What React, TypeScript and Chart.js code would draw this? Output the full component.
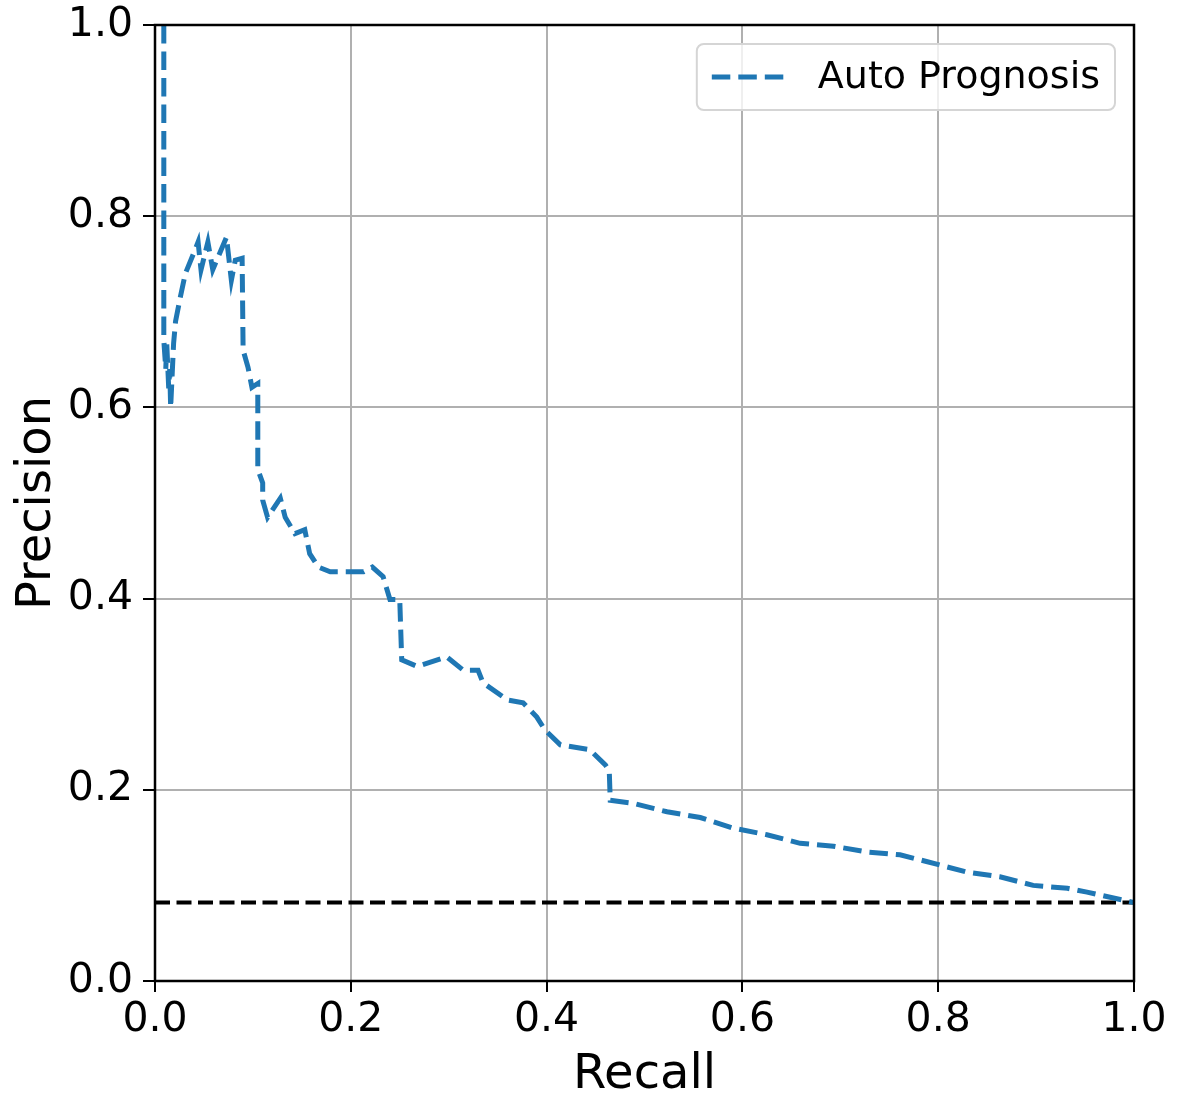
import React, { useEffect, useRef } from "react";
import { Chart, registerables } from "chart.js";

Chart.register(...registerables);

const seriesLabel = "Auto Prognosis";
const recall = [
  0.009, 0.009, 0.011, 0.012, 0.014, 0.015, 0.016, 0.019, 0.021, 0.026, 0.031, 0.039, 0.044, 0.047,
  0.054, 0.059, 0.066, 0.073, 0.078, 0.082, 0.089, 0.090, 0.095, 0.099, 0.105, 0.105, 0.110, 0.110,
  0.115, 0.128, 0.133, 0.143, 0.153, 0.158, 0.167, 0.179, 0.196, 0.213, 0.222, 0.233, 0.240, 0.250,
  0.252, 0.268, 0.298, 0.315, 0.330, 0.335, 0.360, 0.376, 0.390, 0.398, 0.414, 0.444, 0.460, 0.464,
  0.465, 0.488, 0.523, 0.557, 0.590, 0.625, 0.659, 0.693, 0.727, 0.761, 0.788, 0.829, 0.863, 0.897,
  0.932, 0.952, 1.0,
];
const precision = [
  1.0, 0.67, 0.64, 0.667, 0.62, 0.64, 0.60, 0.667, 0.69, 0.716, 0.74, 0.76, 0.773, 0.744,
  0.773, 0.744, 0.761, 0.778, 0.733, 0.754, 0.756, 0.66, 0.642, 0.621, 0.625, 0.535, 0.521, 0.503,
  0.485, 0.505, 0.485, 0.468, 0.472, 0.447, 0.433, 0.428, 0.428, 0.428, 0.433, 0.423, 0.399, 0.399,
  0.336, 0.329, 0.339, 0.325, 0.325, 0.312, 0.294, 0.291, 0.276, 0.263, 0.247, 0.242, 0.226, 0.220,
  0.189, 0.186, 0.177, 0.171, 0.160, 0.153, 0.144, 0.141, 0.135, 0.132, 0.125, 0.114, 0.109, 0.100,
  0.097, 0.093, 0.082,
];
const baselineRecall = [0, 1];
const baselinePrecision = [0.082, 0.082];
const xTicks = [0, 0.2, 0.4, 0.6, 0.8, 1.0];
const yTicks = [0, 0.2, 0.4, 0.6, 0.8, 1.0];
const xTitle = "Recall";
const yTitle = "Precision";

const FONT = "'DejaVu Sans', sans-serif";

const framePlugin = {
  id: "frameAndLegend",
  afterDraw(chart: any) {
    const { ctx, chartArea } = chart;
    ctx.save();
    ctx.strokeStyle = "#000";
    ctx.lineWidth = 2.5;
    ctx.strokeRect(chartArea.left, chartArea.top, chartArea.right - chartArea.left, chartArea.bottom - chartArea.top);

    // legend box
    const ds = chart.data.datasets[0];
    ctx.font = `38px ${FONT}`;
    const tw = ctx.measureText(ds.label).width;
    const padL = 15, lineW = 75, gap = 31, padR = 15;
    const w = padL + lineW + gap + tw + padR;
    const h = 66;
    const x = chartArea.right - 19 - w;
    const y = chartArea.top + 19;
    ctx.beginPath();
    ctx.roundRect(x, y, w, h, 7);
    ctx.fillStyle = "rgba(255,255,255,0.8)";
    ctx.fill();
    ctx.strokeStyle = "#d5d5d5";
    ctx.lineWidth = 2;
    ctx.stroke();
    ctx.beginPath();
    ctx.setLineDash(ds.borderDash);
    ctx.strokeStyle = ds.borderColor;
    ctx.lineWidth = ds.borderWidth;
    ctx.moveTo(x + padL, y + h / 2);
    ctx.lineTo(x + padL + lineW, y + h / 2);
    ctx.stroke();
    ctx.setLineDash([]);
    ctx.fillStyle = "#000";
    ctx.textBaseline = "middle";
    ctx.fillText(ds.label, x + padL + lineW + gap, y + h / 2 + 1);
    ctx.restore();
  },
};

export default function App() {
  const ref = useRef<HTMLCanvasElement>(null);
  useEffect(() => {
    if (!ref.current) return;
    const chart = new Chart(ref.current, {
      type: "scatter",
      data: {
        datasets: [
          {
            label: seriesLabel,
            data: recall.map((r, i) => ({ x: r, y: precision[i] })),
            showLine: true,
            borderColor: "#1f77b4",
            backgroundColor: "#1f77b4",
            borderWidth: 5,
            borderDash: [18.5, 8],
            pointRadius: 0,
            tension: 0,
          },
          {
            label: "baseline",
            data: baselineRecall.map((r, i) => ({ x: r, y: baselinePrecision[i] })),
            showLine: true,
            borderColor: "#000",
            borderWidth: 4,
            borderDash: [15, 6.5],
            pointRadius: 0,
          },
        ],
      },
      options: {
        animation: false,
        responsive: false,
        layout: { padding: { left: 0, right: 49, top: 25, bottom: 0 } },
        plugins: { legend: { display: false }, tooltip: { enabled: false } },
        scales: {
          x: {
            type: "linear",
            min: 0,
            max: 1,
            afterBuildTicks: (axis: any) => {
              axis.ticks = xTicks.map((v) => ({ value: v }));
            },
            afterFit: (s: any) => {
              s.height = 121;
              s.paddingLeft = 0;
              s.paddingRight = 0;
            },
            ticks: {
              callback: (v: any) => Number(v).toFixed(1),
              font: { family: FONT, size: 41 },
              color: "#000",
              padding: 4,
              maxRotation: 0,
            },
            grid: { color: "#b0b0b0", lineWidth: 2, tickLength: 11, tickColor: "#000", tickWidth: 2 },
            border: { display: false },
            title: { display: true, text: xTitle, font: { family: FONT, size: 48, lineHeight: 1.1 }, color: "#000", padding: { top: 0, bottom: 0 } },
          },
          y: {
            type: "linear",
            min: 0,
            max: 1,
            afterBuildTicks: (axis: any) => {
              axis.ticks = yTicks.map((v) => ({ value: v }));
            },
            afterFit: (s: any) => {
              s.width = 155;
              s.paddingTop = 0;
              s.paddingBottom = 0;
            },
            ticks: {
              callback: (v: any) => Number(v).toFixed(1),
              font: { family: FONT, size: 41 },
              color: "#000",
              padding: 10,
            },
            grid: { color: "#b0b0b0", lineWidth: 2, tickLength: 12, tickColor: "#000", tickWidth: 2 },
            border: { display: false },
            title: { display: true, text: yTitle, font: { family: FONT, size: 48, lineHeight: 1.1 }, color: "#000", padding: { top: 11, bottom: 0 } },
          },
        },
      },
      plugins: [framePlugin],
    });
    return () => chart.destroy();
  }, []);
  return (
    <div style={{ position: "absolute", left: 0, top: 0, width: 1183, height: 1102, background: "#fff" }}>
      <canvas ref={ref} width={1183} height={1102} />
    </div>
  );
}
